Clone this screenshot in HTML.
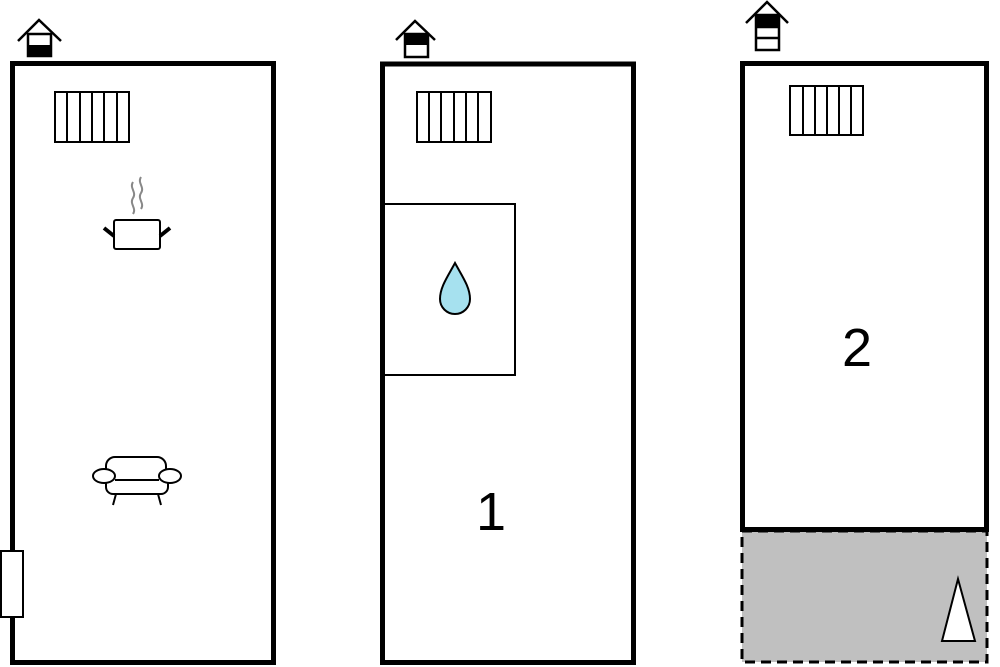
<!DOCTYPE html>
<html><head><style>body{margin:0;background:#fff}svg{display:block}</style></head><body>
<svg width="1000" height="667" viewBox="0 0 1000 667" xmlns="http://www.w3.org/2000/svg">
<rect width="1000" height="667" fill="#fff"/>
<g fill="none" stroke="#000">
<!-- panels -->
<rect x="12.5" y="63.5" width="261" height="599" stroke-width="5"/>
<rect x="382.5" y="64" width="251" height="598.5" stroke-width="5"/>
<rect x="742" y="531" width="245" height="131" fill="#c0c0c0" stroke-width="3" stroke-dasharray="10,6"/>
<rect x="742.5" y="63.5" width="244" height="466" fill="#fff" stroke-width="5"/>
<!-- radiators -->
<g stroke-width="2">
<rect x="55" y="92" width="74" height="50"/>
<path d="M67 92v50M80 92v50M92 92v50M104 92v50M117 92v50"/>
<rect x="417" y="92" width="74" height="50"/>
<path d="M429 92v50M441 92v50M454 92v50M466 92v50M478 92v50"/>
<rect x="790" y="86" width="73" height="49"/>
<path d="M803 86v49M815 86v49M827 86v49M839 86v49M851 86v49"/>
</g>
<!-- bathroom -->
<rect x="384" y="204" width="131" height="171" stroke-width="2"/>
<!-- door -->
<rect x="1" y="551" width="22" height="66" fill="#fff" stroke-width="2"/>
<!-- houses -->
<g stroke-width="2.5">
<path d="M18 41L39 20L61 41"/>
<rect x="28" y="34" width="23" height="22"/>
<path d="M396 40L415 21L435 40"/>
<rect x="405" y="34" width="23" height="23"/>
<path d="M746 23L767 2L788 23"/>
<rect x="756" y="15" width="23" height="35"/>
<path d="M756 27h23M756 38h23"/>
</g>
</g>
<rect x="28" y="45" width="23" height="12" fill="#000"/>
<rect x="405" y="33" width="23" height="12" fill="#000"/>
<rect x="755" y="14" width="25" height="13" fill="#000"/>
<!-- pot -->
<g fill="none">
<path d="M133 182c-4 6 4 10 0 16s4 10 0 16M141 177c-4 6 4 10 0 16s4 10 0 16" stroke="#888" stroke-width="2"/>
<rect x="114" y="220" width="46" height="29" rx="2" stroke="#000" stroke-width="2" fill="#fff"/>
<path d="M104 228l10 8M170 228l-10 8" stroke="#000" stroke-width="4"/>
</g>
<!-- sofa -->
<g fill="#fff" stroke="#000" stroke-width="2">
<path d="M106 473v-7a9 9 0 0 1 9-9h42a9 9 0 0 1 9 9v7"/>
<path d="M106 479v8a7 7 0 0 0 7 7h48a7 7 0 0 0 7-7v-8"/>
<path d="M116 494l-3 11M158 494l3 11"/>
<ellipse cx="104" cy="476" rx="11" ry="7"/>
<ellipse cx="170" cy="476" rx="11" ry="7"/>
<path d="M115 480h44"/>
</g>
<!-- drop -->
<path d="M455 263C448 276 440 287 440 299a15 15 0 0 0 30 0C470 287 462 276 455 263Z" fill="#a6e1ef" stroke="#000" stroke-width="2"/>
<!-- triangle -->
<path d="M958 579L942 641H975Z" fill="#fff" stroke="#000" stroke-width="2"/>
<text x="491" y="530" font-family="Liberation Sans, sans-serif" font-size="54" text-anchor="middle">1</text>
<text x="857" y="366" font-family="Liberation Sans, sans-serif" font-size="54" text-anchor="middle">2</text>
</svg>
</body></html>
